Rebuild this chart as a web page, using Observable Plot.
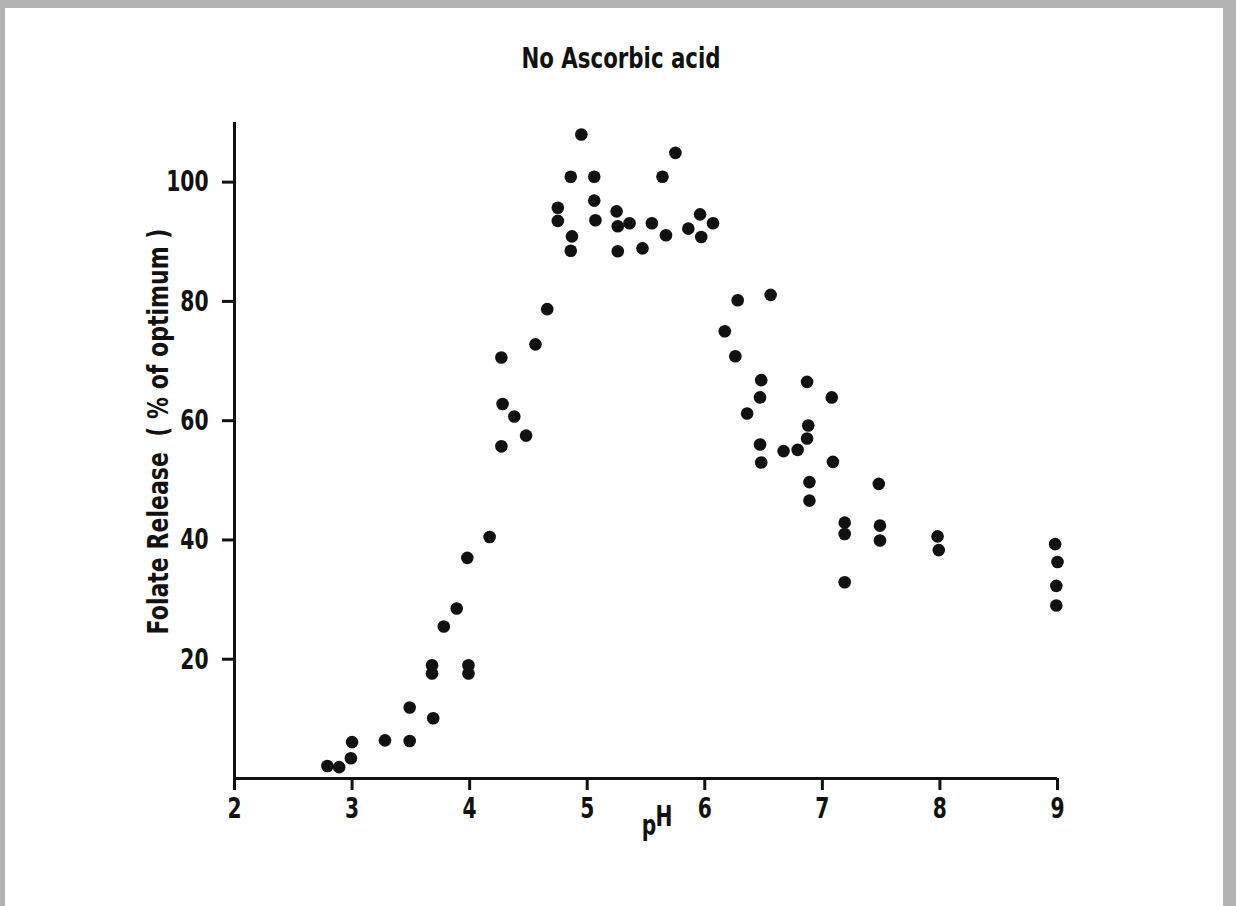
<!DOCTYPE html>
<html>
<head>
<meta charset="utf-8">
<script src="https://cdn.jsdelivr.net/npm/d3@7"></script>
<script src="https://cdn.jsdelivr.net/npm/@observablehq/plot@0.6"></script>
<style>
  html, body { margin: 0; padding: 0; }
  body { width: 1236px; height: 906px; background: #b3b3b3; position: relative; overflow: hidden;
         font-family: "DejaVu Sans", sans-serif; }
  #paper { position: absolute; left: 5px; top: 8px; width: 1218px; height: 898px; background: #ffffff; }
  #title { position: absolute; left: 616px; top: 33px; white-space: nowrap;
           font-size: 29px; font-weight: bold; color: #111;
           transform: translateX(-50%) scaleX(0.735); transform-origin: center; }
  #chart { position: absolute; left: 0; top: 74px; }
</style>
</head>
<body>
<div id="paper">
  <div id="title">No Ascorbic acid</div>
  <div id="chart"></div>
</div>
<script>
// pH values (x) and folate release (% of optimum)
const pH = [
  2.79, 2.89, 2.99, 3.00, 3.28, 3.49, 3.49, 3.69, 3.68, 3.68, 3.78, 3.89, 3.98, 3.99, 3.99, 4.17,
  4.27, 4.28, 4.38, 4.48, 4.27, 4.56, 4.66,
  4.95, 4.86, 5.06, 5.64, 5.75, 4.75, 4.75, 5.06, 5.07, 5.25, 5.26, 5.36, 5.55, 5.67, 5.86, 5.96, 5.97, 6.07, 4.87, 4.86, 5.26, 5.47,
  6.28, 6.56, 6.17, 6.26, 6.48, 6.87, 6.47, 7.08, 6.36, 6.88, 6.87, 6.47, 6.67, 6.79, 6.48, 7.09,
  6.89, 6.89, 7.19, 7.19, 7.19, 7.48, 7.49, 7.49, 7.98, 7.99, 8.98, 9.00, 8.99, 8.99
];
const release = [
  2.1, 1.9, 3.4, 6.1, 6.4, 6.3, 11.9, 10.1, 19.0, 17.6, 25.5, 28.5, 37.0, 19.0, 17.6, 40.5,
  70.6, 62.8, 60.7, 57.5, 55.7, 72.8, 78.7,
  108.0, 100.9, 100.9, 100.9, 104.9, 95.7, 93.5, 96.9, 93.6, 95.1, 92.6, 93.1, 93.1, 91.1, 92.2, 94.6, 90.8, 93.1, 90.9, 88.5, 88.4, 88.9,
  80.2, 81.1, 75.0, 70.8, 66.8, 66.5, 63.9, 63.9, 61.2, 59.2, 57.0, 56.0, 54.9, 55.1, 53.0, 53.1,
  49.7, 46.6, 42.9, 41.0, 32.9, 49.4, 42.4, 39.9, 40.6, 38.3, 39.3, 36.3, 32.3, 29.0
];
const xTicks = [2, 3, 4, 5, 6, 7, 8, 9];
const yTicks = [20, 40, 60, 80, 100];
const yLabel = "Folate Release  ( % of optimum )";
const xLabelMain = "p";
const xLabelSup = "H";

const data = pH.map((x, i) => ({x, y: release[i]}));

const chart = Plot.plot({
  width: 1218,
  height: 808,
  marginLeft: 229,
  marginRight: 166,
  marginTop: 40,
  marginBottom: 112,
  style: {background: "transparent", fontFamily: '"DejaVu Sans", sans-serif', color: "#111", overflow: "visible"},
  x: {domain: [2, 9]},
  y: {domain: [0, 110]},
  marks: [
    Plot.axisX({ticks: xTicks, tickFormat: d => String(d), tickSize: 12, tickPadding: 7, strokeWidth: 3, fontSize: 29, fontWeight: "bold", label: null}),
    Plot.axisY({ticks: yTicks, tickFormat: d => String(d), tickSize: 12, tickPadding: 14, strokeWidth: 3, fontSize: 29, fontWeight: "bold", label: null}),
    Plot.ruleY([0], {stroke: "#111", strokeWidth: 3}),
    Plot.ruleX([2], {stroke: "#111", strokeWidth: 3}),
    Plot.dot(data, {x: "x", y: "y", r: 6.3, fill: "#111", stroke: "none"}),
    Plot.text([yLabel], {frameAnchor: "left", textAnchor: "middle", lineAnchor: "middle", rotate: -90, dx: -76, dy: -19, fontSize: 29, fontWeight: "bold", fill: "#111", className: "ylab"}),
    Plot.text([xLabelMain], {frameAnchor: "bottom", textAnchor: "middle", lineAnchor: "middle", dx: 3, dy: 47, fontSize: 29, fontWeight: "bold", fill: "#111"}),
    Plot.text([xLabelSup], {frameAnchor: "bottom", textAnchor: "middle", lineAnchor: "middle", dx: 18, dy: 38, fontSize: 29, fontWeight: "bold", fill: "#111"})
  ]
});

// narrow the lettering, like the condensed stencil type of the original
chart.querySelectorAll("text").forEach(t => {
  const s = t.closest(".ylab") ? 0.76 : 0.7;
  const tr = t.getAttribute("transform") || "";
  t.setAttribute("transform", `${tr} scale(${s},1)`);
});
document.getElementById("chart").appendChild(chart);
</script>
</body>
</html>
